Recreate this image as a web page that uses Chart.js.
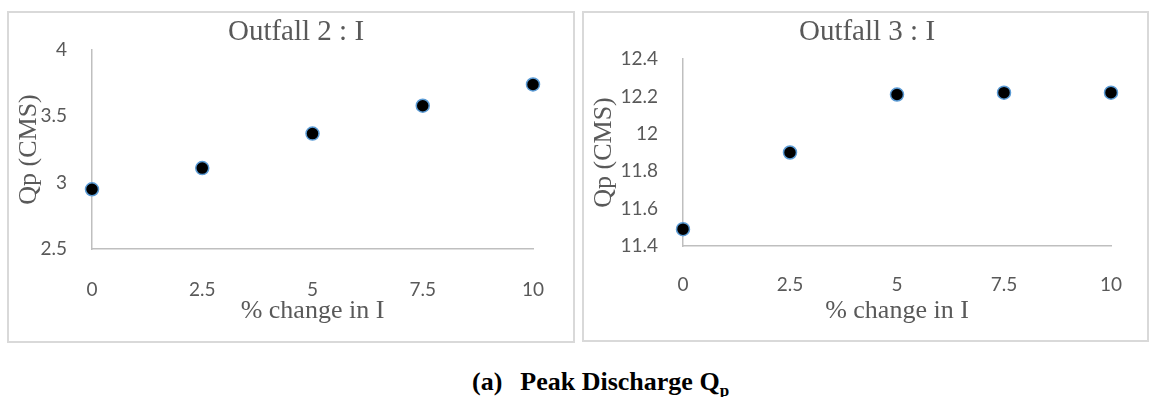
<!DOCTYPE html>
<html>
<head>
<meta charset="utf-8">
<script src="https://cdn.jsdelivr.net/npm/chart.js@4.4.1/dist/chart.umd.min.js"></script>
<style>
    body {
        margin: 0;
        background: #ffffff;
        width: 1153px;
        height: 397px;
        position: relative;
        overflow: hidden;
    }
    .panel {
        position: absolute;
        border: 2px solid #d9d9d9;
        box-sizing: border-box;
    }
    .panel canvas {
        display: block;
    }
    #caption {
        position: absolute;
        left: 472px;
        top: 367px;
        font-family: 'Liberation Serif', 'Times New Roman', serif;
        font-weight: bold;
        font-size: 26px;
        line-height: 30px;
        white-space: nowrap;
        color: #000000;
    }
    #caption sub {
        font-size: 17px;
        line-height: 0;
    }
</style>
</head>
<body>

<div class="panel" style="left:7px; top:11px; width:568px; height:332px;">
    <canvas id="outfall2" width="574" height="328"></canvas>
</div>
<div class="panel" style="left:582px; top:11px; width:567px; height:331px;">
    <canvas id="outfall3" width="566" height="327"></canvas>
</div>
<div id="caption"><span>(a)</span><span style="margin-left:18px;">Peak Discharge Q<sub>p</sub></span></div>

<script>
// Data
const pctChange = [0, 2.5, 5, 7.5, 10];
const qpOutfall2 = [2.95, 3.11, 3.37, 3.58, 3.74];
const qpOutfall3 = [11.49, 11.90, 12.21, 12.22, 12.22];

// Tick labels
const xTicks = [0, 2.5, 5, 7.5, 10];
const yTicksOutfall2 = [2.5, 3, 3.5, 4];
const yTicksOutfall3 = [11.4, 11.6, 11.8, 12, 12.2, 12.4];

const serif = "'Liberation Serif', 'Times New Roman', serif";
const sans = "Lato, 'Open Sans', sans-serif";
const textGray = '#595959';
const axisGray = '#bfbfbf';

function makePoints(xs, ys) {
    return xs.map((x, i) => ({ x: x, y: ys[i] }));
}

function useTicks(values) {
    return function (scale) {
        scale.ticks = values.map(v => ({ value: v }));
    };
}

function createChart(canvasId, opts) {
    const node = document.getElementById(canvasId);

    return new Chart(node, {
        type: 'scatter',
        data: {
            datasets: [{
                data: makePoints(pctChange, opts.values),
                backgroundColor: '#000000',
                borderColor: '#5b9bd5',
                borderWidth: 1.5,
                pointRadius: 6.5,
                pointHoverRadius: 6.5,
                clip: false
            }]
        },
        options: {
            responsive: false,
            animation: false,
            layout: {
                padding: 0
            },
            plugins: {
                legend: { display: false },
                tooltip: { enabled: false },
                title: {
                    display: true,
                    text: opts.title,
                    color: textGray,
                    font: { family: serif, size: 29, weight: 'normal' },
                    padding: { top: 1.6, bottom: opts.titleGap }
                }
            },
            scales: {
                x: {
                    type: 'linear',
                    min: 0,
                    max: 10,
                    afterBuildTicks: useTicks(xTicks),
                    afterFit: (scale) => { scale.height = opts.xHeight; },
                    grid: { display: false, drawTicks: false },
                    border: { display: true, color: axisGray, width: 1.5 },
                    ticks: {
                        color: textGray,
                        padding: opts.xTickPad,
                        maxRotation: 0,
                        font: { family: sans, size: 19 },
                        callback: (value) => String(value)
                    },
                    title: {
                        display: true,
                        text: '% change in I',
                        color: textGray,
                        font: { family: serif, size: 26 },
                        padding: { top: 0, bottom: opts.xTitlePad }
                    }
                },
                y: {
                    type: 'linear',
                    min: opts.yMin,
                    max: opts.yMax,
                    afterBuildTicks: useTicks(opts.yTicks),
                    afterFit: (scale) => { scale.width = opts.yWidth; },
                    grid: { display: false, drawTicks: false },
                    border: { display: true, color: axisGray, width: 1.5 },
                    ticks: {
                        color: textGray,
                        padding: 25,
                        font: { family: sans, size: 19 },
                        callback: (value) => String(value)
                    },
                    title: {
                        display: true,
                        text: 'Qp (CMS)',
                        color: textGray,
                        font: { family: serif, size: 26 },
                        padding: { top: opts.yTitlePad, bottom: 0 }
                    }
                },
                // empty right-hand gutter so the chart title sits centred on the panel, like Excel
                gutter: {
                    type: 'linear',
                    position: 'right',
                    afterFit: (scale) => { scale.width = opts.gutter; },
                    grid: { display: false, drawTicks: false },
                    border: { display: false },
                    ticks: { display: false }
                }
            }
        }
    });
}

createChart('outfall2', {
    title: 'Outfall 2 : I',
    values: qpOutfall2,
    yMin: 2.5,
    yMax: 4,
    yTicks: yTicksOutfall2,
    yWidth: 83,
    yTitlePad: 5,
    gutter: 50,
    titleGap: 0.6,
    xHeight: 92,
    xTickPad: 29.6,
    xTitlePad: 14.4
});

createChart('outfall3', {
    title: 'Outfall 3 : I',
    values: qpOutfall3,
    yMin: 11.4,
    yMax: 12.4,
    yTicks: yTicksOutfall3,
    yWidth: 99,
    yTitlePad: 4.4,
    gutter: 39,
    titleGap: 9.6,
    xHeight: 94,
    xTickPad: 27.6,
    xTitlePad: 13.4
});
</script>
</body>
</html>
